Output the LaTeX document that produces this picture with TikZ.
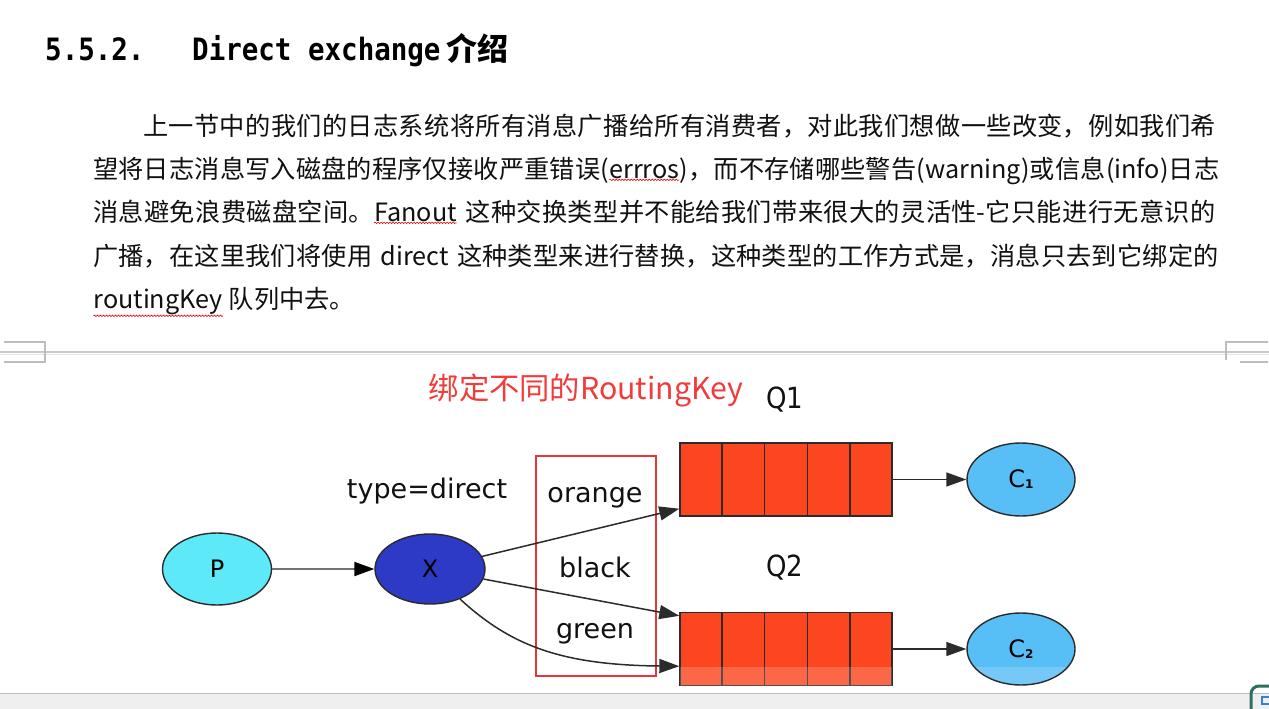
\documentclass[tikz,border=0pt]{standalone}
\usepackage{fontspec}
\setmainfont{DejaVu Sans}
\newfontfamily\cjk{Noto Sans CJK SC}
\newfontfamily\headmono{DejaVu Sans Mono}
\usetikzlibrary{arrows.meta,calc,positioning,decorations.pathmorphing,shapes.geometric}
\definecolor{ink}{HTML}{2B2B2B}
\definecolor{txt}{HTML}{111111}
\definecolor{pcyan}{HTML}{5EE9F8}
\definecolor{xblue}{HTML}{2C3AC6}
\definecolor{cblue}{HTML}{58BEF6}
\definecolor{qred}{HTML}{FC4620}
\definecolor{keyred}{HTML}{E8353A}
\definecolor{labelred}{HTML}{F23B3B}
\definecolor{sepgray}{HTML}{C9C9C9}
\definecolor{markgray}{HTML}{BDBDBD}
\definecolor{barbg}{HTML}{EFEFEF}
\definecolor{iconteal}{HTML}{2F6F5F}
\definecolor{iconblue}{HTML}{3C7FD0}
\XeTeXlinebreaklocale "zh"
\XeTeXlinebreakskip=0pt plus 3pt
% red wavy spell-check line under a word
\newcommand\squig[1]{\tikz[baseline=(sq.base)]{\node[inner sep=0pt,outer sep=0pt] (sq) {#1};
  \draw[red!85!black,line width=0.6pt,decorate,decoration={snake,amplitude=0.7pt,segment length=3pt}] ([yshift=-1.5pt]sq.south west) -- ([yshift=-1.5pt]sq.south east);}}
% one justified line of the paragraph
\newcommand\fullline[1]{{\parfillskip=0pt\relax\parindent=0pt\relax #1\par}}

\begin{document}
\begin{tikzpicture}[x=1pt,y=-1pt,
  para/.style={anchor=base west,inner sep=0pt,text=txt,font=\cjk\fontsize{25.2}{30}\selectfont},
  lbl/.style={inner sep=0pt,text=txt,font=\fontsize{27}{30}\selectfont},
  ellnode/.style={ellipse,draw=ink,line width=1.4pt,inner sep=0pt,font=\fontsize{24}{26}\selectfont},
  queue/.style={rectangle,draw=ink,line width=1.4pt,fill=qred,minimum width=212pt,minimum height=73pt},
  edge/.style={-{Triangle[length=20pt,width=14pt]},line width=1.5pt,draw=ink}]
\useasboundingbox (0,0) rectangle (1269,709);
\fill[white] (0,0) rectangle (1269,709);

% heading
\node[anchor=base west,inner sep=0pt,text=black,font=\headmono\bfseries\fontsize{27.5}{30}\selectfont] (hnum) at (45,60) {\scalebox{1}[1.12]{5.5.2.}};
\node[anchor=base west,inner sep=0pt,text=black,font=\headmono\bfseries\fontsize{27.5}{30}\selectfont] (htitle) at (192,60) {\scalebox{1}[1.12]{Direct exchange}};
\node[anchor=base west,inner sep=0pt,text=black,font=\cjk\bfseries\fontsize{31}{34}\selectfont] (hcjk) at (446,60) {介绍};

% paragraph
\node[para,text width=1079pt] (l1) at (143,135) {\fullline{上一节中的我们的日志系统将所有消息广播给所有消费者，对此我们想做一些改变，例如我们希}};
\node[para,text width=1129pt] (l2) at (93,178) {\fullline{望将日志消息写入磁盘的程序仅接收严重错误(\squig{errros})，而不存储哪些警告(warning)或信息(info)日志}};
\node[para,text width=1129pt] (l3) at (93,221) {\fullline{消息避免浪费磁盘空间。\squig{Fanout} 这种交换类型并不能给我们带来很大的灵活性-它只能进行无意识的}};
\node[para,text width=1129pt] (l4) at (93,265) {\fullline{广播，在这里我们将使用 direct 这种类型来进行替换，这种类型的工作方式是，消息只去到它绑定的}};
\node[para] (l5) at (93,308) {\squig{routingKey} 队列中去。};

% page break marks
\draw[sepgray,line width=2pt] (0,352) -- (1269,352);
\draw[sepgray!50,line width=1.5pt] (0,354.5) -- (1269,354.5);
\draw[markgray,line width=1.2pt] (4,342) -- (45,342) -- (45,362) -- (4,362);
\draw[markgray,line width=1.2pt] (1268,342) -- (1226,342) -- (1226,360);
\draw[markgray,line width=1.2pt] (1240,362) -- (1268,362);

% diagram
\node[inner sep=0pt,text=labelred,font=\cjk\fontsize{30.3}{33}\selectfont] (note) at (586,390) {绑定不同的RoutingKey};

\node[ellnode,fill=pcyan,minimum width=109pt,minimum height=72pt] (P) at (217,569) {P};
\node[ellnode,fill=xblue,minimum width=110pt,minimum height=70pt] (X) at (430,569) {X};
\node[lbl,anchor=base] (type) at (427,498) {type=direct};

\node[queue] (Q1) at (786,479.5) {};
\node[queue] (Q2) at (786,649) {};
\foreach \q in {Q1,Q2}
  \foreach \i in {1,...,4}
    \draw[ink,line width=1.4pt] ($(\q.north west)!\i/5!(\q.north east)$) -- ($(\q.south west)!\i/5!(\q.south east)$);
\node[lbl,font=\fontsize{26}{28}\selectfont] (q1name) at (785,400) {\scalebox{1}[1.12]{Q1}};
\node[lbl,font=\fontsize{26}{28}\selectfont] (q2name) at (785,568) {\scalebox{1}[1.12]{Q2}};

\node[ellnode,fill=cblue,minimum width=108pt,minimum height=73pt] (C1) at (1021,479.5) {C\raisebox{-1pt}{\fontsize{12}{12}\selectfont\bfseries 1}};
\node[ellnode,fill=cblue,minimum width=108pt,minimum height=72pt] (C2) at (1021,649) {C\raisebox{-1pt}{\fontsize{12}{12}\selectfont\bfseries 2}};

% routing keys
\node[draw=keyred,line width=2.5pt,minimum width=120pt,minimum height=220pt] (keys) at (596,566) {};
\node[lbl,anchor=base] (kor) at (595,502) {orange};
\node[lbl,anchor=base] (kbl) at (595,577) {black};
\node[lbl,anchor=base] (kgr) at (595,638) {green};

\coordinate (q1in) at ($(Q1.south west)+(0,-8)$);
\coordinate (q2a) at ($(Q2.north west)+(0,4)$);
\coordinate (q2b) at ($(Q2.south west)+(0,-20)$);

\draw[-{Triangle[length=20pt,width=14pt,black]},draw=black!55,line width=2pt] (P) -- (X);
\draw[edge] (X) -- (q1in);
\draw[edge] (X) -- (q2a);
\draw[edge] (X.-45) .. controls (510,645) and (560,665) .. (q2b);
\draw[edge] (Q1.east) -- (C1);
\draw[edge] (Q2.east) -- (C2);

% fade at the bottom of the video frame
\fill[white,opacity=0.18] ($(Q2.south west)+(0.7,-0.7)$) rectangle ($(Q2.east)+(-0.7,18)$);
\begin{scope}
  \clip (C2.center) ellipse (53 and 35);
  \fill[white,opacity=0.18] (960,667) rectangle (1080,690);
\end{scope}

% window bar
\fill[barbg] (0,693) rectangle (1269,709);
\draw[markgray,line width=1pt] (0,693) -- (1269,693);
\begin{scope}
  \clip (0,0) rectangle (1269,709);
  \draw[iconteal,line width=3pt,rounded corners=8pt] (1251,720) -- (1251,686) -- (1280,686);
  \draw[iconblue,line width=2pt] (1262,697) rectangle (1275,704);
\end{scope}
\end{tikzpicture}
\end{document}
